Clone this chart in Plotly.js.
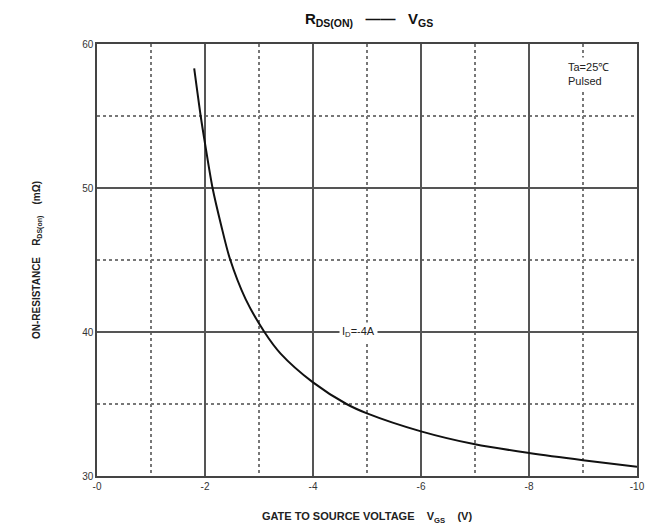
<!DOCTYPE html>
<html>
<head>
<meta charset="utf-8">
<script src="https://cdn.plot.ly/plotly-3.0.1.min.js"></script>
<style>html,body{margin:0;padding:0;background:#fff;}#chart{width:665px;height:532px;}</style>
</head>
<body>
<div id="chart"></div>
<script>
// Gate-source voltage (V) and on-resistance (mOhm)
const vgs = [-1.8, -1.92, -2.0, -2.14, -2.3, -2.46, -2.75, -3.1, -3.4, -4.0, -4.62, -5.0, -6.0, -7.0, -8.0, -9.0, -10.0];
const rdsOn = [58.3, 55.0, 53.1, 50.0, 47.4, 45.1, 42.3, 40.0, 38.5, 36.5, 35.0, 34.35, 33.1, 32.2, 31.6, 31.1, 30.65];
const xTickVals = [0, -2, -4, -6, -8, -10];
const xTickText = ['-0', '-2', '-4', '-6', '-8', '-10'];
const yTickVals = [30, 40, 50, 60];
const yTickText = ['30', '40', '50', '60'];

const font = 'Arial, "Liberation Sans", sans-serif';
const gridCol = '#555';

const trace = {
  x: vgs, y: rdsOn, type: 'scatter', mode: 'lines',
  line: {color: '#111', width: 2, shape: 'spline', smoothing: 0.8},
  hoverinfo: 'skip'
};

const layout = {
  width: 665, height: 532,
  margin: {l: 97, r: 28, t: 44, b: 56},
  paper_bgcolor: '#fff', plot_bgcolor: '#fff',
  showlegend: false,
  font: {family: font, color: '#222'},
  title: {
    text: '<b>R<sub>DS(ON)</sub>   ——   V<sub>GS</sub></b>',
    font: {family: font, size: 15, color: '#111'},
    x: 0.555, xanchor: 'center', y: 0.965, yanchor: 'middle'
  },
  xaxis: {
    range: [0, -10],
    tickvals: xTickVals, ticktext: xTickText,
    tickfont: {family: font, size: 10, color: '#333'},
    ticks: '', ticklen: 0,
    showgrid: true, gridcolor: gridCol, gridwidth: 1.4,
    showline: true, linecolor: '#444', linewidth: 1.6, mirror: true,
    zeroline: false,
    minor: {dtick: 1, tick0: 0, showgrid: true, griddash: 'dot', gridcolor: '#777', gridwidth: 1.2, ticks: ''},
    title: {
      text: '<b>GATE TO SOURCE VOLTAGE    V<sub>GS</sub>    (V)</b>',
      font: {family: font, size: 11, color: '#222'},
      standoff: 22
    }
  },
  yaxis: {
    range: [30, 60],
    tickvals: yTickVals, ticktext: yTickText,
    tickfont: {family: font, size: 10, color: '#333'},
    ticks: '', ticklen: 0,
    showgrid: true, gridcolor: gridCol, gridwidth: 1.4,
    showline: true, linecolor: '#444', linewidth: 1.6, mirror: true,
    zeroline: false,
    minor: {dtick: 5, tick0: 30, showgrid: true, griddash: 'dot', gridcolor: '#777', gridwidth: 1.2, ticks: ''},
    title: {
      text: '<b>ON-RESISTANCE    R<sub>DS(on)</sub>    (mΩ)</b>',
      font: {family: font, size: 10, color: '#222'},
      standoff: 40
    }
  },
  annotations: [
    {
      x: -9.1, y: 57.9, xref: 'x', yref: 'y',
      text: 'Ta=25℃<br>Pulsed', showarrow: false, align: 'left',
      font: {family: font, size: 11, color: '#222'},
      bgcolor: '#fff', xanchor: 'center', yanchor: 'middle', borderpad: 3
    },
    {
      x: -4.85, y: 40, xref: 'x', yref: 'y',
      text: 'I<sub>D</sub>=-4A', showarrow: false,
      font: {family: font, size: 11, color: '#222'},
      bgcolor: '#fff', xanchor: 'center', yanchor: 'middle', borderpad: 2
    }
  ]
};

Plotly.newPlot('chart', [trace], layout, {displayModeBar: false, staticPlot: true});
</script>
</body>
</html>
